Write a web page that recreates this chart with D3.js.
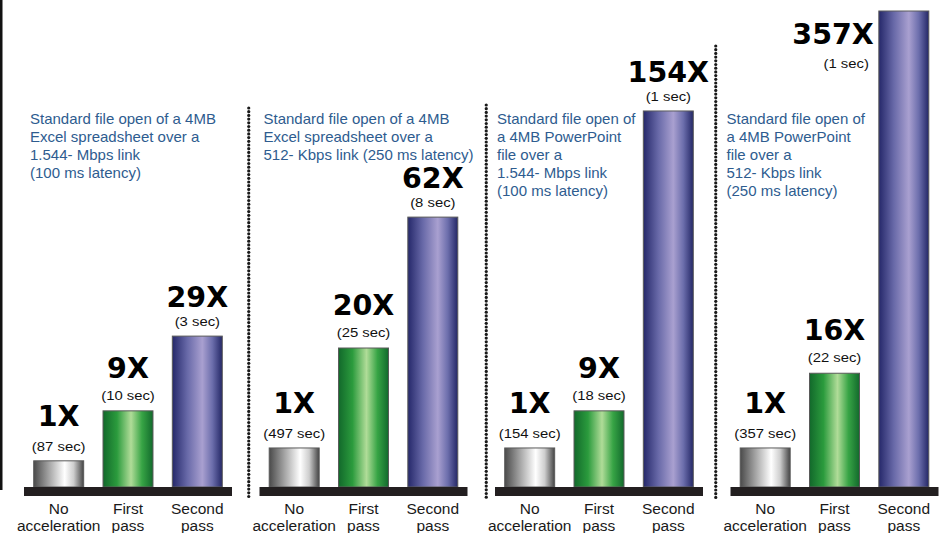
<!DOCTYPE html>
<html>
<head>
<meta charset="utf-8">
<script src="https://cdn.jsdelivr.net/npm/d3@7"></script>
<style>
  body { margin: 0; background: #fff; }
  svg { display: block; }
</style>
</head>
<body>
<div id="chart"></div>
<script>
// the data
var categories = ["No acceleration", "First pass", "Second pass"];
var panels = ["excel-t1", "excel-512k", "ppt-t1", "ppt-512k"];
var speedup = [[1, 9, 29], [1, 20, 62], [1, 9, 154], [1, 16, 357]];
var seconds = [[87, 10, 3], [497, 25, 8], [154, 18, 1], [357, 22, 1]];
// bar height as drawn in the picture, % of the tallest bar (the bars are not to scale)
var barLevel = [[5.5, 16, 31.7], [8.2, 29.2, 56.7], [8.2, 16, 79], [8.2, 23.9, 100]];
var descriptions = [
    ["Standard file open of a 4MB", "Excel spreadsheet over a", "1.544- Mbps link", "(100 ms latency)"],
    ["Standard file open of a 4MB", "Excel spreadsheet over a", "512- Kbps link (250 ms latency)"],
    ["Standard file open of", "a 4MB PowerPoint", "file over a", "1.544- Mbps link", "(100 ms latency)"],
    ["Standard file open of", "a 4MB PowerPoint", "file over a", "512- Kbps link", "(250 ms latency)"]
];

var width = 942, height = 533;
var baseY = 487;
var descShift = [6, 4, 2, -4];

var svg = d3.select("#chart").append("svg")
    .attr("width", width)
    .attr("height", height);

// gradients for the bars
var defs = svg.append("defs");
var grads = {
    "grad0": [[0, "#4a4a4a"], [0.33, "#ababab"], [0.62, "#ffffff"], [0.8, "#cdcdcd"], [1, "#444444"]],
    "grad1": [[0, "#12692b"], [0.28, "#2b9b3d"], [0.56, "#b0dc98"], [0.78, "#37a445"], [1, "#126a2c"]],
    "grad2": [[0, "#25286a"], [0.3, "#6869a8"], [0.6, "#a9a0d0"], [0.8, "#6c6eac"], [1, "#242766"]]
};
Object.keys(grads).forEach(function(id) {
    defs.append("linearGradient")
        .attr("id", id)
        .attr("x1", "0%").attr("x2", "100%").attr("y1", "0%").attr("y2", "0%")
        .selectAll("stop")
        .data(grads[id])
        .enter().append("stop")
        .attr("offset", d => d[0])
        .attr("stop-color", d => d[1]);
});

// set the ranges
var px = d3.scaleBand().domain(d3.range(panels.length)).range([24, 938.5]).paddingInner(0.1168);
var x = d3.scaleBand().domain(categories).range([0, px.bandwidth()]).paddingInner(0.279).paddingOuter(0.14);
var y = d3.scaleLinear().domain([0, 100]).range([baseY, 11]);

// left border line
svg.append("rect")
    .attr("x", 0).attr("y", 0)
    .attr("width", 2.5).attr("height", 490)
    .attr("fill", "#111");

// dotted separators
var sepTop = [108, 105, 46];
var sepShift = [3, 5, -1];
sepTop.forEach(function(top, i) {
    var sx = (px(i) + px.bandwidth() + px(i + 1)) / 2 + sepShift[i];
    svg.append("g")
        .selectAll("circle")
        .data(d3.range(top, 499, 3.7))
        .enter().append("circle")
        .attr("cx", sx)
        .attr("cy", d => d)
        .attr("r", 1.6)
        .attr("fill", "#1a1a1a");
});

panels.forEach(function(p, pi) {
    var g = svg.append("g")
        .attr("transform", "translate(" + px(pi) + ",0)");

    // description
    g.append("text")
        .attr("y", 123.5)
        .style("font-family", "'Liberation Sans', Arial, sans-serif")
        .style("font-size", "15px")
        .style("fill", "#2e5c8f")
        .selectAll("tspan")
        .data(descriptions[pi])
        .enter().append("tspan")
        .attr("x", descShift[pi])
        .attr("dy", (d, i) => i === 0 ? 0 : 18.2)
        .text(d => d);

    var data = categories.map(function(c, i) {
        return {cat: c, i: i, level: barLevel[pi][i], speed: speedup[pi][i], sec: seconds[pi][i]};
    });

    // bars
    g.selectAll(".bar")
        .data(data)
        .enter().append("rect")
        .attr("class", "bar")
        .attr("x", d => x(d.cat))
        .attr("y", d => y(d.level))
        .attr("width", x.bandwidth())
        .attr("height", d => baseY - y(d.level))
        .attr("fill", d => "url(#grad" + d.i + ")")
        .attr("stroke", "#5a5a5a")
        .attr("stroke-width", 1);

    // baseline
    g.append("rect")
        .attr("x", 0)
        .attr("y", baseY)
        .attr("width", px.bandwidth())
        .attr("height", 9)
        .attr("fill", "#231f20");

    // labels
    var gapSmall = [10, 11, 10], gapBig = [25, 22, 19];
    data.forEach(function(d) {
        var top = y(d.level);
        var cx = x(d.cat) + x.bandwidth() / 2;
        var anchor = "middle", smallY = top - gapSmall[d.i], bigY = smallY - gapBig[d.i];
        if (top < 40) {
            // too tall, put the label beside the bar
            anchor = "end";
            cx = x(d.cat) - 5;
            bigY = top + 33;
            smallY = top + 57;
        }
        g.append("text")
            .attr("transform", "translate(" + cx + "," + bigY + ")")
            .attr("text-anchor", anchor)
            .style("font-family", "'DejaVu Sans', sans-serif")
            .style("font-weight", "bold")
            .style("font-size", "28.5px")
            .style("fill", "#000")
            .text(d.speed + "X");
        g.append("text")
            .attr("transform", "translate(" + (anchor === "end" ? cx - 5 : cx) + "," + smallY + ") scale(1.1,1)")
            .attr("text-anchor", anchor)
            .style("font-family", "'Liberation Sans', Arial, sans-serif")
            .style("font-size", "13.5px")
            .style("fill", "#111")
            .text("(" + d.sec + " sec)");

        // category label
        g.append("text")
            .attr("text-anchor", "middle")
            .style("font-family", "'Liberation Sans', Arial, sans-serif")
            .style("font-size", "15.5px")
            .style("fill", "#1a1a1a")
            .selectAll("tspan")
            .data(d.cat.split(" "))
            .enter().append("tspan")
            .attr("x", x(d.cat) + x.bandwidth() / 2)
            .attr("y", (t, i) => 514 + i * 17)
            .text(t => t);
    });
});
</script>
</body>
</html>
